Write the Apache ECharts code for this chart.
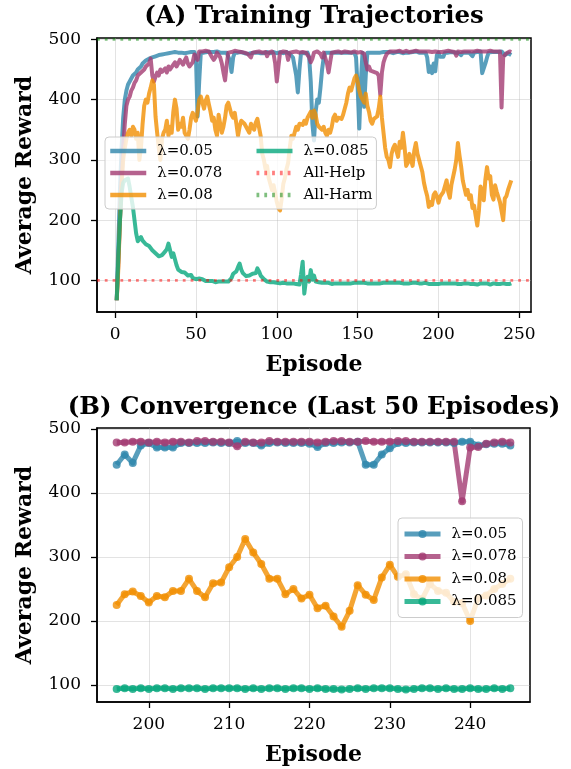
<!DOCTYPE html>
<html><head><meta charset="utf-8">
<script src="https://cdn.jsdelivr.net/npm/echarts@6/dist/echarts.min.js"></script>
<style>html,body{margin:0;padding:0;background:#fff;}#c{width:571px;height:769px;}</style>
</head><body><div id="c"></div>
<script>
// ---------- DATA ----------
const EPISODE_START = 1;
const LAST_N = 50;
const SERIES_NAMES = ['λ=0.05', 'λ=0.078', 'λ=0.08', 'λ=0.085'];
const REF_NAMES = ['All-Help', 'All-Harm'];
const ALL_HELP = 100;
const ALL_HARM = 500;
const X_TICKS_A = [0, 50, 100, 150, 200, 250];
const X_TICKS_B = [200, 210, 220, 230, 240];
const Y_TICKS = [100, 200, 300, 400, 500];

const LAM_005 = [
67,160,250,320,370,400,415,425,428,435,
440,438,445,450,448,455,460,458,465,462,
468,466,470,468,472,470,474,472,475,473,
476,474,477,475,478,476,479,477,478,479,
478,479,477,479,478,480,479,478,479,470,
372,430,478,479,478,480,479,478,479,478,
479,478,480,479,478,479,478,479,478,477,
465,446,470,478,479,478,477,479,478,477,
478,476,478,477,476,478,477,478,476,477,
478,477,478,479,478,477,478,479,478,477,
478,479,478,477,478,479,478,476,478,470,
470,440,412,450,478,479,477,479,478,470,
430,360,332,380,400,395,420,450,470,478,
479,478,477,478,479,478,476,478,479,478,
477,478,479,478,477,478,479,478,470,420,
352,430,478,388,440,478,479,478,477,478,
479,478,479,478,477,479,478,479,478,479,
478,477,478,479,478,479,478,477,479,478,
479,478,477,479,478,480,479,478,479,478,
479,478,470,446,455,
444,460,447,474,478,471,471,471,478,478,
478,478,479,478,478,481,478,478,474,478,
479,478,478,478,477,472,478,478,479,479,
480,444,444,460,470,478,478,479,479,479,
479,479,478,480,480,474,476,477,477,474];

const LAM_0078 = [
67,130,200,260,320,360,390,400,405,415,
420,428,432,440,438,445,442,450,455,452,
460,468,440,430,438,445,440,450,446,448,
452,445,455,450,448,458,462,455,460,466,
462,458,465,470,460,455,458,462,475,470,
466,480,478,480,479,481,478,480,478,470,
466,470,478,476,470,460,445,432,458,478,
480,479,478,481,479,480,478,479,480,478,
479,476,478,470,478,480,479,478,480,479,
478,480,479,472,478,479,480,476,460,430,
455,478,479,480,478,479,466,478,480,479,
478,480,479,478,477,479,480,478,479,470,
462,468,478,479,480,478,476,470,478,479,
460,445,462,478,480,479,478,480,479,478,
479,480,478,479,480,478,479,480,479,478,
480,479,478,476,462,450,455,448,450,446,
448,444,440,408,445,462,470,476,478,480,
479,480,478,480,479,481,480,479,480,481,
480,479,481,480,480,481,479,480,481,480,
479,480,481,480,480,
479,479,480,480,479,480,479,480,480,479,
481,481,480,480,479,473,480,479,479,481,
480,480,480,480,480,479,480,481,481,480,
480,481,480,480,480,481,481,480,480,480,
480,480,480,387,471,472,477,479,480,479];

const LAM_008 = [
67,120,200,260,300,320,335,345,350,340,
355,350,335,345,300,320,360,390,400,395,
410,420,432,425,372,345,320,300,335,345,
350,365,340,355,345,380,400,385,350,360,
355,370,345,340,335,350,370,378,372,365,
380,400,405,395,385,398,405,392,380,365,
370,350,340,375,360,345,355,370,390,395,
385,375,370,378,360,340,355,365,362,360,
355,350,345,360,355,350,362,368,365,340,
310,300,285,290,270,260,250,258,245,230,
220,216,235,260,270,285,295,320,340,335,
345,355,350,360,362,358,365,360,370,375,
380,370,382,375,360,355,358,350,355,345,
340,350,345,355,370,375,365,370,372,368,
375,385,395,410,420,415,425,435,440,430,
415,405,400,395,410,390,380,365,360,368,
365,372,385,405,370,345,320,305,300,288,
310,320,325,328,305,330,320,345,322,290,
295,310,300,290,315,328,310,300,290,280,
262,250,240,222,230,
225,242,246,239,229,239,237,247,247,266,
247,237,259,260,284,300,328,307,289,266,
266,242,250,235,241,220,224,207,191,216,
256,241,233,268,288,269,273,242,234,258,
247,244,230,228,200,236,240,250,258,266];

const LAM_0085 = [
67,140,200,245,262,266,268,269,255,238,
222,200,178,165,162,172,166,168,160,162,
157,155,150,148,145,143,140,139,142,145,
148,152,161,150,139,145,135,125,118,115,
114,112,113,110,108,106,109,104,103,102,
101,103,100,102,100,99,100,99,98,99,
98,97,98,98,97,98,97,98,97,98,
100,104,111,108,115,122,128,118,112,110,
107,106,108,106,111,108,112,120,115,108,
106,102,99,98,97,97,96,97,96,96,
96,95,96,96,97,95,96,95,96,95,
96,94,95,93,110,131,78,100,106,98,
117,101,108,98,96,97,95,96,95,96,
95,96,95,94,96,95,96,95,96,95,
96,95,96,95,96,95,96,96,95,96,
95,96,95,96,95,95,96,95,96,95,
96,95,96,95,95,96,95,96,95,96,
95,96,95,96,95,96,95,95,96,95,
96,95,95,96,95,96,95,95,96,95,
95,96,95,94,95,
94,95,94,95,94,95,95,94,95,95,
95,94,95,95,95,95,94,95,94,95,
95,94,95,95,94,95,94,94,93,94,
95,94,95,95,95,94,93,94,95,95,
94,95,94,94,95,94,94,95,94,95];

// ---------- STYLE ----------
const FONT = 'DejaVu Serif';
const COLORS = ['#2E86AB', '#A23B72', '#F18F01', '#06A77D'];
const REF_COLORS = ['#ff0000', '#008000'];
const X_A = [-11.2, 257.2], Y_A = [47.5, 502.3];
const X_B = [193.55, 247.45], Y_B = [73.5, 501.5];

const ALL = [LAM_005, LAM_0078, LAM_008, LAM_0085];
const toPts = (arr, start) => arr.map((v, i) => [start + i, v]);
const bStart = EPISODE_START + LAM_005.length - LAST_N;

function xAxis(idx, range, ticks) {
  return {
    gridIndex: idx, type: 'value', min: range[0], max: range[1],
    name: 'Episode', nameLocation: 'middle', nameGap: 42,
    nameTextStyle: {fontFamily: FONT, fontWeight: 'bold', fontSize: 22, color: '#000'},
    axisLine: {show: true, onZero: false, lineStyle: {color: '#000', width: 1.5}},
    axisTick: {show: true, length: 6, inside: false, customValues: ticks, lineStyle: {color: '#000', width: 1.3}},
    axisLabel: {customValues: ticks, fontFamily: FONT, fontSize: 17, color: '#000', margin: 14},
    splitLine: {show: true, lineStyle: {color: '#b0b0b0', opacity: 0.35, width: 1}},
    minorTick: {show: false}
  };
}
function yAxis(idx, range) {
  return {
    gridIndex: idx, type: 'value', min: range[0], max: range[1],
    name: 'Average Reward', nameLocation: 'middle', nameGap: 61, nameRotate: 90,
    nameTextStyle: {fontFamily: FONT, fontWeight: 'bold', fontSize: 22, color: '#000'},
    axisLine: {show: true, onZero: false, lineStyle: {color: '#000', width: 1.5}},
    axisTick: {show: true, length: 6, inside: false, customValues: Y_TICKS, lineStyle: {color: '#000', width: 1.3}},
    axisLabel: {customValues: Y_TICKS, fontFamily: FONT, fontSize: 17, color: '#000', margin: 16},
    splitLine: {show: true, lineStyle: {color: '#b0b0b0', opacity: 0.35, width: 1}}
  };
}

const series = [];
ALL.forEach((arr, k) => {
  series.push({
    type: 'line', name: SERIES_NAMES[k], xAxisIndex: 0, yAxisIndex: 0,
    data: toPts(arr, EPISODE_START), symbol: 'none', clip: true,
    lineStyle: {color: COLORS[k], width: 4, opacity: 0.8, join: 'round'},
    itemStyle: {color: COLORS[k], opacity: 0.8}, silent: true
  });
});
[ALL_HELP, ALL_HARM].forEach((v, k) => {
  series.push({
    type: 'line', name: REF_NAMES[k], xAxisIndex: 0, yAxisIndex: 0,
    data: [[X_A[0], v], [X_A[1], v]], symbol: 'none', clip: true,
    lineStyle: {color: REF_COLORS[k], width: 2.8, opacity: 0.5, type: [2.8, 5]},
    itemStyle: {color: REF_COLORS[k], opacity: 0.5}, silent: true
  });
});
ALL.forEach((arr, k) => {
  series.push({
    type: 'line', name: 'B:' + SERIES_NAMES[k], xAxisIndex: 1, yAxisIndex: 1,
    data: toPts(arr.slice(arr.length - LAST_N), bStart),
    symbol: 'circle', symbolSize: 8, showSymbol: true, showAllSymbol: true, clip: true,
    lineStyle: {color: COLORS[k], width: 5, opacity: 0.8, join: 'round'},
    itemStyle: {color: COLORS[k], opacity: 0.8, borderWidth: 0}, silent: true
  });
});

const chart = echarts.init(document.getElementById('c'), null, {renderer: 'canvas'});
chart.setOption({
  animation: false,
  backgroundColor: '#fff',
  grid: [
    {left: 97, top: 38, width: 434, height: 274, show: true, borderColor: '#000', borderWidth: 1.5, backgroundColor: 'transparent'},
    {left: 97, top: 428, width: 433, height: 274, show: true, borderColor: '#000', borderWidth: 1.5, backgroundColor: 'transparent'}
  ],
  xAxis: [xAxis(0, X_A, X_TICKS_A), xAxis(1, X_B, X_TICKS_B)],
  yAxis: [yAxis(0, Y_A), yAxis(1, Y_B)],
  legend: [
    {
      orient: 'horizontal', left: 105, top: 137, width: 268,
      data: [
        {name: SERIES_NAMES[0], textStyle: {width: 91}}, {name: SERIES_NAMES[3]},
        {name: SERIES_NAMES[1], textStyle: {width: 91}}, {name: REF_NAMES[0]},
        {name: SERIES_NAMES[2], textStyle: {width: 91}}, {name: REF_NAMES[1]}
      ],
      itemWidth: 36, itemHeight: 16, itemGap: 6, selectedMode: false,
      itemStyle: {opacity: 0},
      lineStyle: {width: 4.5},
      textStyle: {fontFamily: FONT, fontSize: 15, color: '#000', lineHeight: 16, padding: [0, 0, 0, 6]},
      padding: [6, 4, 6, 3],
      backgroundColor: 'rgba(255,255,255,0.8)', borderColor: '#cccccc', borderWidth: 1, borderRadius: 4
    },
    {
      orient: 'vertical', left: 398, top: 518,
      data: SERIES_NAMES.map(n => 'B:' + n),
      formatter: n => n.replace(/^B:/, ''),
      itemWidth: 36, itemHeight: 10, itemGap: 6.5, selectedMode: false,
      lineStyle: {width: 5},
      textStyle: {fontFamily: FONT, fontSize: 15, color: '#000', lineHeight: 16, padding: [0, 0, 0, 6]},
      padding: [8, 6, 8, 4],
      backgroundColor: 'rgba(255,255,255,0.8)', borderColor: '#cccccc', borderWidth: 1, borderRadius: 4
    }
  ],
  graphic: [
    {type: 'text', x: 314, y: 17, silent: true,
     style: {text: '(A) Training Trajectories', textAlign: 'center', textVerticalAlign: 'middle',
             font: 'bold 24.5px "DejaVu Serif"', fill: '#000'}},
    {type: 'text', x: 314, y: 408, silent: true,
     style: {text: '(B) Convergence (Last 50 Episodes)', textAlign: 'center', textVerticalAlign: 'middle',
             font: 'bold 24.5px "DejaVu Serif"', fill: '#000'}}
  ],
  series: series
});
</script></body></html>
